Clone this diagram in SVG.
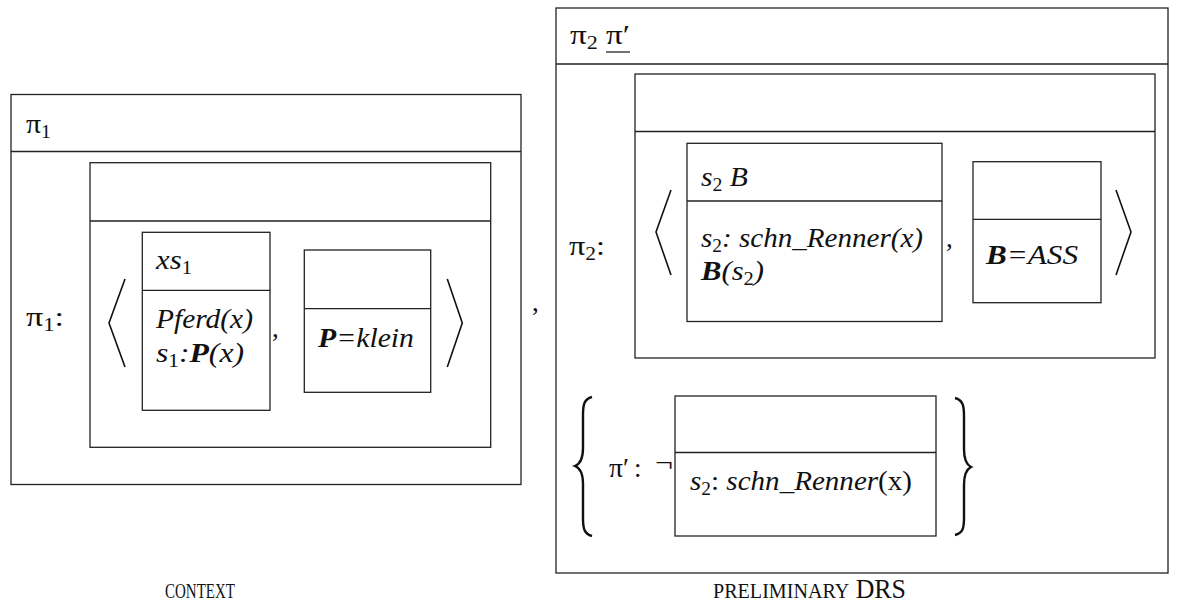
<svg xmlns="http://www.w3.org/2000/svg" width="1182" height="605" viewBox="0 0 1182 605">
<style>
.box{fill:none;stroke:#222;stroke-width:1.3}
.ln{stroke:#222;stroke-width:1.3;fill:none}
.del{stroke:#111;stroke-width:1.6;fill:none;stroke-linejoin:miter}
.br{stroke:#111;stroke-width:2.4;fill:none}
.t{font-family:"Liberation Serif","Times New Roman",serif;font-size:27px;fill:#111}
.i{font-style:italic}
.n{font-style:normal}
.b{font-weight:bold}
.sc{font-size:21px}
</style>
<rect width="1182" height="605" fill="#fff"/>
<g id="connectors"/>
<g id="context-drs">
<rect class="box" x="11" y="94.5" width="510" height="390"/>
<line class="ln" x1="11" y1="151.5" x2="521" y2="151.5"/>
<text class="t" x="26" y="133" textLength="25" lengthAdjust="spacingAndGlyphs">π<tspan font-size="18" dy="5">1</tspan></text>
</g>
<g id="pi1-drs">
<text class="t" x="26" y="326" textLength="38" lengthAdjust="spacingAndGlyphs">π<tspan font-size="18" dy="5">1</tspan><tspan dy="-5">:</tspan></text>
<rect class="box" x="90" y="162.7" width="400.7" height="284.6"/>
<line class="ln" x1="90" y1="221" x2="490.7" y2="221"/>
<polyline class="del" points="125,279 109,323 125,367"/>
<polyline class="del" points="447.3,279 462.3,323 447.3,367"/>
<text class="t" x="272" y="337">,</text>
</g>
<g id="box-xs1">
<rect class="box" x="142.3" y="232.3" width="127.7" height="178"/>
<line class="ln" x1="142.3" y1="290.3" x2="270" y2="290.3"/>
<text class="t i" x="156" y="269" textLength="36" lengthAdjust="spacingAndGlyphs">xs<tspan class="n" font-size="18" dy="5">1</tspan></text>
<text class="t i" x="156" y="328" textLength="97" lengthAdjust="spacingAndGlyphs">Pferd(x)</text>
<text class="t i" x="156" y="362" textLength="88" lengthAdjust="spacingAndGlyphs">s<tspan class="n" font-size="18" dy="5">1</tspan><tspan dy="-5">:</tspan><tspan class="b">P</tspan>(x)</text>
</g>
<g id="box-klein">
<rect class="box" x="304.3" y="250" width="126.4" height="142.3"/>
<line class="ln" x1="304.3" y1="308.7" x2="430.7" y2="308.7"/>
<text class="t i" x="318" y="347" textLength="96" lengthAdjust="spacingAndGlyphs"><tspan class="b">P</tspan>=klein</text>
</g>
<text class="t" x="532" y="311">,</text>
<g id="preliminary-drs">
<rect class="box" x="556" y="8" width="612" height="565"/>
<line class="ln" x1="556" y1="64" x2="1168" y2="64"/>
<text class="t" x="570" y="44" textLength="60" lengthAdjust="spacingAndGlyphs">π<tspan font-size="18" dy="5">2</tspan><tspan dy="-5"> π′</tspan></text>
<line class="ln" x1="606" y1="52" x2="630" y2="52"/>
</g>
<g id="pi2-drs">
<text class="t" x="569" y="255" textLength="36" lengthAdjust="spacingAndGlyphs">π<tspan font-size="18" dy="5">2</tspan><tspan dy="-5">:</tspan></text>
<rect class="box" x="635" y="74" width="520" height="284"/>
<line class="ln" x1="635" y1="131.5" x2="1155" y2="131.5"/>
<polyline class="del" points="671,190 656,232 671,275"/>
<polyline class="del" points="1116,190 1131,232 1116,275"/>
<text class="t" x="946" y="247">,</text>
</g>
<g id="box-s2B">
<rect class="box" x="687" y="143.3" width="255" height="178.2"/>
<line class="ln" x1="687" y1="201" x2="942" y2="201"/>
<text class="t i" x="701" y="186" textLength="47" lengthAdjust="spacingAndGlyphs">s<tspan class="n" font-size="18" dy="5">2</tspan><tspan dy="-5"> B</tspan></text>
<text class="t i" x="701" y="247" textLength="222" lengthAdjust="spacingAndGlyphs">s<tspan class="n" font-size="18" dy="5">2</tspan><tspan dy="-5">: schn_Renner(x)</tspan></text>
<text class="t i" x="701" y="280" textLength="63" lengthAdjust="spacingAndGlyphs"><tspan class="b">B</tspan>(s<tspan class="n" font-size="18" dy="5">2</tspan><tspan dy="-5">)</tspan></text>
</g>
<g id="box-ASS">
<rect class="box" x="973" y="161.7" width="128" height="141"/>
<line class="ln" x1="973" y1="219.3" x2="1101" y2="219.3"/>
<text class="t i" x="986" y="264" textLength="92" lengthAdjust="spacingAndGlyphs"><tspan class="b">B</tspan>=ASS</text>
</g>
<g id="pi-prime-set">
<path class="br" d="M592,397 C584,399 583,405 583,415 L583,448 C583,458 580,464 575,466 C580,468 583,474 583,484 L583,518 C583,528 584,534 592,536"/>
<path class="br" d="M955,398 C963,400 964,406 964,416 L964,449 C964,459 967,465 971,467 C967,469 964,475 964,485 L964,518 C964,528 963,533 955,535"/>
<text class="t" x="609" y="477" textLength="20" lengthAdjust="spacingAndGlyphs">π′</text>
<text class="t" x="634" y="477">:</text>
<text class="t" x="655" y="472" textLength="18" lengthAdjust="spacingAndGlyphs">¬</text>
</g>
<g id="box-neg">
<rect class="box" x="675" y="396" width="261" height="140"/>
<line class="ln" x1="675" y1="452.5" x2="936" y2="452.5"/>
<text class="t" x="690" y="490" textLength="222" lengthAdjust="spacingAndGlyphs"><tspan class="i">s</tspan><tspan font-size="18" dy="5">2</tspan><tspan dy="-5">: </tspan><tspan class="i">schn_Renner</tspan>(x)</text>
</g>
<g id="labels">
<text class="t sc" x="165" y="598" textLength="70" lengthAdjust="spacingAndGlyphs">CONTEXT</text>
<text class="t sc" x="713" y="598" textLength="193" lengthAdjust="spacingAndGlyphs">PRELIMINARY<tspan font-size="27"> DRS</tspan></text>
</g>
</svg>
